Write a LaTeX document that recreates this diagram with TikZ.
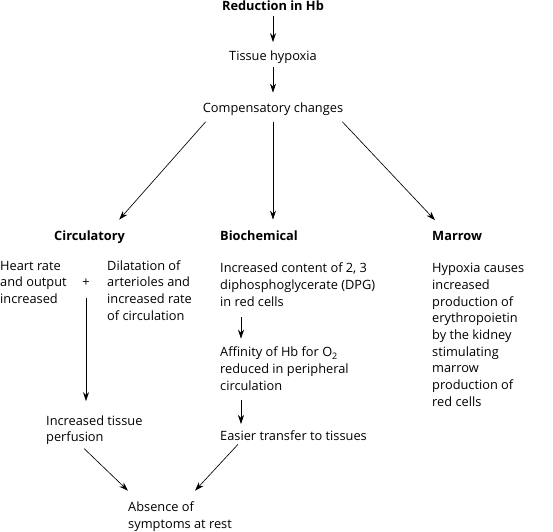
\documentclass[tikz,border=0pt]{standalone}
\usepackage{fontspec}
\setmainfont{Open Sans}
\usetikzlibrary{arrows.meta,calc,positioning}

\begin{document}
\begin{tikzpicture}[x=1pt,y=-1pt,
  txt/.style={inner sep=0pt,align=left,font=\fontsize{12.8}{16.7}\selectfont},
  head/.style={txt,font=\fontsize{12.8}{16.7}\selectfont\bfseries},
  arr/.style={-{Stealth[length=9pt,width=6pt]},line width=0.65pt}]
 \useasboundingbox (0,0) rectangle (553,531);
 %
 \node[head,anchor=base] (red) at (273,10) {Reduction in Hb};
 \node[txt,anchor=base] (tis) at (273,60) {Tissue hypoxia};
 \node[txt,anchor=base] (comp) at (273,112.5) {Compensatory changes};
 \node[head,anchor=base west] (circ) at (54,240.5) {Circulatory};
 \node[head,anchor=base west] (bio) at (220,240.5) {Biochemical};
 \node[head,anchor=base west] (mar) at (432,240.5) {Marrow};
 % multi-line nodes sit on the baseline of their last line
 \node[txt,anchor=base west] (heart) at (0,303.4) {Heart rate\\and output\\increased};
 \node[txt] (plus) at (86,283) {+};
 \node[txt,anchor=base west] (dil) at (107,320.1) {Dilatation of\\arterioles and\\increased rate\\of circulation};
 \node[txt,anchor=base west] (perf) at (46,441.7) {Increased tissue\\perfusion};
 \node[txt,anchor=base west] (abs) at (128,528.4) {Absence of\\symptoms at rest};
 %
 \node[txt,anchor=base west] (dpg) at (220,306.1) {Increased content of 2, 3\\diphosphoglycerate (DPG)\\in red cells};
 \node[txt,anchor=base west] (aff) at (220,390.1) {Affinity of Hb for O\textsubscript{2}\\reduced in peripheral\\circulation};
 \node[txt,anchor=base west] (eas) at (220,440) {Easier transfer to tissues};
 %
 \node[txt,anchor=base west] (hyp) at (432,406.3) {Hypoxia causes\\increased\\production of\\erythropoietin\\by the kidney\\stimulating\\marrow\\production of\\red cells};
 %
 \draw[arr] ([yshift=-6pt]red.south) -- ([yshift=8pt]tis.north);
 \draw[arr] ([yshift=-4pt]tis.south) -- ([yshift=10pt]comp.north);
 \draw[arr] ($(comp.south west)+(3,6)$) -- ($(circ.north east)+(-6,-11)$);
 \draw[arr] ($(comp.south)+(0,6)$) -- ($(comp.south |- bio.north)+(0,-11)$);
 \draw[arr] ($(comp.south east)+(-1,6)$) -- ($(mar.north west)+(3,-11)$);
 \draw[arr] ($(plus.center)+(0,15)$) -- ($(plus.center |- perf.north)+(0,-14)$);
 \draw[arr] ($(dpg.south west)+(21,11)$) -- ($(dpg.south west |- aff.north)+(21,-8)$);
 \draw[arr] ($(aff.south west)+(21,10)$) -- ($(aff.south west |- eas.north)+(21,-6)$);
 \draw[arr] ($(perf.south west)+(38,3.5)$) -- ($(abs.north west)+(0,-11)$);
 \draw[arr] ($(eas.south west)+(18,4)$) -- ($(abs.north west)+(67,-11)$);
\end{tikzpicture}
\end{document}
